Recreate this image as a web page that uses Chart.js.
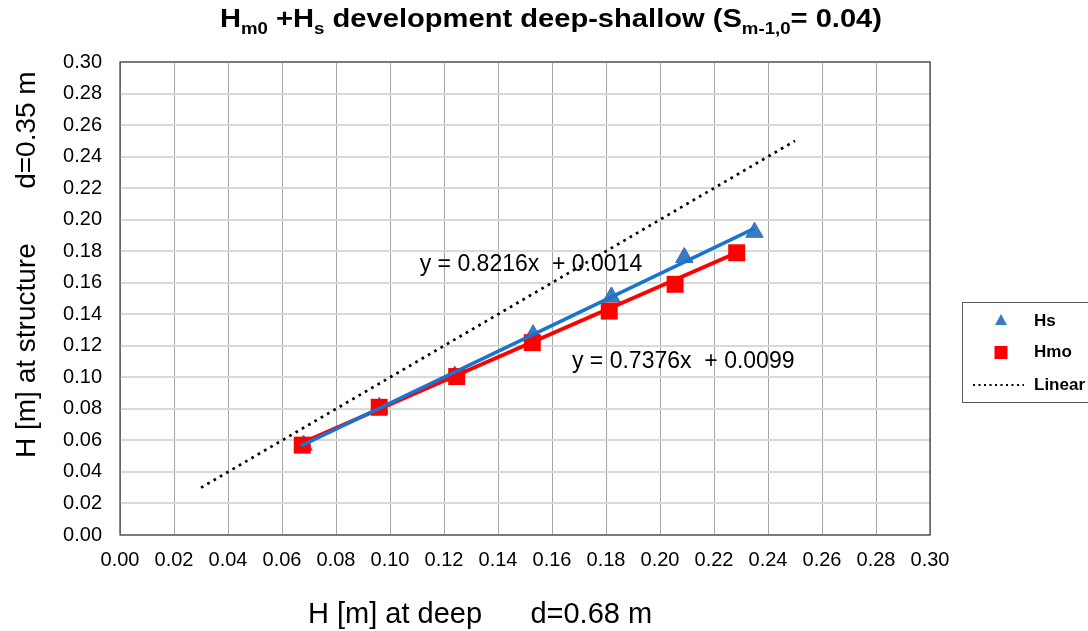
<!DOCTYPE html>
<html>
<head>
<meta charset="utf-8">
<script src="https://cdn.jsdelivr.net/npm/chart.js@4"></script>
<style>
html,body{margin:0;padding:0;background:#fff;}
#wrap{position:relative;width:1088px;height:631px;}
</style>
</head>
<body>
<div id="wrap"><canvas id="c" width="1088" height="631"></canvas></div>
<script>
// ---- data ----
const hsX  = [0.068, 0.096, 0.124, 0.153, 0.182, 0.209, 0.235];
const hsY  = [0.057, 0.081, 0.1008, 0.127, 0.151, 0.176, 0.192];
const hmoX = [0.0675, 0.096, 0.1247, 0.1527, 0.1812, 0.2056, 0.2284];
const hmoY = [0.057, 0.081, 0.1005, 0.122, 0.142, 0.159, 0.179];
const hsTrendX  = [0.067, 0.235];
const hsTrendY  = [0.0565, 0.1945];
const hmoTrendX = [0.0675, 0.2284];
const hmoTrendY = [0.0585, 0.179];
const linX = [0.03, 0.25];
const linY = [0.03, 0.25];
const axisMin = 0, axisMax = 0.30, axisStep = 0.02;
const eqHs  = {text: 'y = 0.8216x  + 0.0014', x: 0.111, y: 0.1712};
const eqHmo = {text: 'y = 0.7376x  + 0.0099', x: 0.1674, y: 0.1097};
const legendLabels = ['Hs', 'Hmo', 'Linear'];
const xTitle = 'H [m] at deep      d=0.68 m';
const yTitle = 'H [m] at structure       d=0.35 m';

const pts = (xs, ys) => xs.map((x, i) => ({x, y: ys[i]}));
const FONT = '"Liberation Sans", Arial, sans-serif';

const BLUE_LINE = '#1874cd';
const BLUE_PT = '#3a7cc2';
const RED = '#ff0000';

const decor = {
  id: 'decor',
  afterDraw(chart) {
    const ctx = chart.ctx;
    const a = chart.chartArea;
    const xs = chart.scales.x, ys = chart.scales.y;
    ctx.save();
    // plot border
    ctx.strokeStyle = '#3c3c3c';
    ctx.lineWidth = 1.2;
    ctx.strokeRect(a.left, a.top, a.right - a.left, a.bottom - a.top);

    // equations
    ctx.fillStyle = '#000';
    ctx.font = '23px ' + FONT;
    ctx.textBaseline = 'middle';
    ctx.textAlign = 'left';
    [eqHs, eqHmo].forEach(e => {
      ctx.fillText(e.text, xs.getPixelForValue(e.x), ys.getPixelForValue(e.y));
    });

    // axis titles
    ctx.font = '29px ' + FONT;
    ctx.textBaseline = 'alphabetic';
    ctx.textAlign = 'left';
    ctx.fillText(xTitle, 308, 623);
    ctx.font = '28px ' + FONT;
    ctx.save();
    ctx.translate(35, 458);
    ctx.rotate(-Math.PI / 2);
    ctx.fillText(yTitle, 0, 0);
    ctx.restore();

    // title with subscripts
    const parts = [
      ['H', 0], ['m0', 1], [' +H', 0], ['s', 1],
      [' development deep-shallow (S', 0], ['m-1,0', 1], ['= 0.04)', 0]
    ];
    const mainF = 'bold 25px ' + FONT, subF = 'bold 16px ' + FONT;
    let w = 0;
    parts.forEach(p => { ctx.font = p[1] ? subF : mainF; w += ctx.measureText(p[0]).width; });
    const target = 882 - 220;
    const sx = target / w;
    ctx.save();
    ctx.translate(220, 0);
    ctx.scale(sx, 1);
    let cx = 0;
    parts.forEach(p => {
      ctx.font = p[1] ? subF : mainF;
      ctx.fillText(p[0], cx, p[1] ? 33.5 : 27);
      cx += ctx.measureText(p[0]).width;
    });
    ctx.restore();

    // legend
    const lx = 962.5, ly = 302.5, lw = 140, lh = 100;
    ctx.fillStyle = '#fff';
    ctx.fillRect(lx, ly, lw, lh);
    ctx.strokeStyle = '#595959';
    ctx.lineWidth = 1;
    ctx.strokeRect(lx, ly, lw, lh);
    ctx.font = 'bold 17px ' + FONT;
    ctx.textBaseline = 'middle';
    ctx.fillStyle = '#000';
    const rows = [321, 352.5, 385];
    const ds = chart.data.datasets;
    ctx.fillStyle = ds[0].backgroundColor;
    ctx.beginPath();
    ctx.moveTo(1001, rows[0] - 7);
    ctx.lineTo(1007, rows[0] + 4);
    ctx.lineTo(995, rows[0] + 4);
    ctx.closePath();
    ctx.fill();
    ctx.fillStyle = ds[1].backgroundColor;
    ctx.fillRect(1001 - 6.5, rows[1] - 6.5, 13, 13);
    ctx.strokeStyle = '#000';
    ctx.lineWidth = 2;
    ctx.setLineDash([2, 3.5]);
    ctx.beginPath();
    ctx.moveTo(973, rows[2]);
    ctx.lineTo(1024, rows[2]);
    ctx.stroke();
    ctx.setLineDash([]);
    ctx.fillStyle = '#000';
    legendLabels.forEach((t, i) => ctx.fillText(t, 1034, rows[i]));
    ctx.restore();
  }
};

new Chart(document.getElementById('c'), {
  type: 'scatter',
  data: {
    datasets: [
      {label: 'Hs', data: pts(hsX, hsY), pointStyle: 'triangle', pointRadius: 10,
       backgroundColor: BLUE_PT, borderColor: '#2f6fb3', borderWidth: 1, order: 4},
      {label: 'Hmo', data: pts(hmoX, hmoY), pointStyle: 'rect', pointRadius: 12,
       backgroundColor: RED, borderColor: RED, borderWidth: 0, order: 3},
      {label: 'Hmo trend', data: pts(hmoTrendX, hmoTrendY), showLine: true, pointRadius: 0,
       borderColor: RED, borderWidth: 4, order: 1},
      {label: 'Hs trend', data: pts(hsTrendX, hsTrendY), showLine: true, pointRadius: 0,
       borderColor: BLUE_LINE, borderWidth: 3.5, order: 0},
      {label: 'Linear', data: pts(linX, linY), showLine: true, pointRadius: 0,
       borderColor: '#000', borderWidth: 2.7, borderDash: [2.7, 4.6], order: 5}
    ]
  },
  options: {
    responsive: false,
    animation: false,
    events: [],
    layout: {padding: {left: 0, top: 62, right: 158, bottom: 0}},
    plugins: {legend: {display: false}, tooltip: {enabled: false}, title: {display: false}},
    scales: {
      x: {
        type: 'linear', min: axisMin, max: axisMax,
        afterFit: s => { s.height = 96; },
        ticks: {stepSize: axisStep, color: '#000', font: {family: FONT, size: 20}, padding: 13,
                callback: v => v.toFixed(2), maxRotation: 0, autoSkip: false},
        grid: {color: '#a6a6a6', lineWidth: 1, drawTicks: false},
        border: {display: false}
      },
      y: {
        type: 'linear', min: axisMin, max: axisMax,
        afterFit: s => { s.width = 120; },
        ticks: {stepSize: axisStep, color: '#000', font: {family: FONT, size: 20}, padding: 18,
                callback: v => v.toFixed(2), autoSkip: false},
        grid: {color: '#d9d9d9', lineWidth: 2, drawTicks: false},
        border: {display: false}
      }
    }
  },
  plugins: [decor]
});
</script>
</body>
</html>
